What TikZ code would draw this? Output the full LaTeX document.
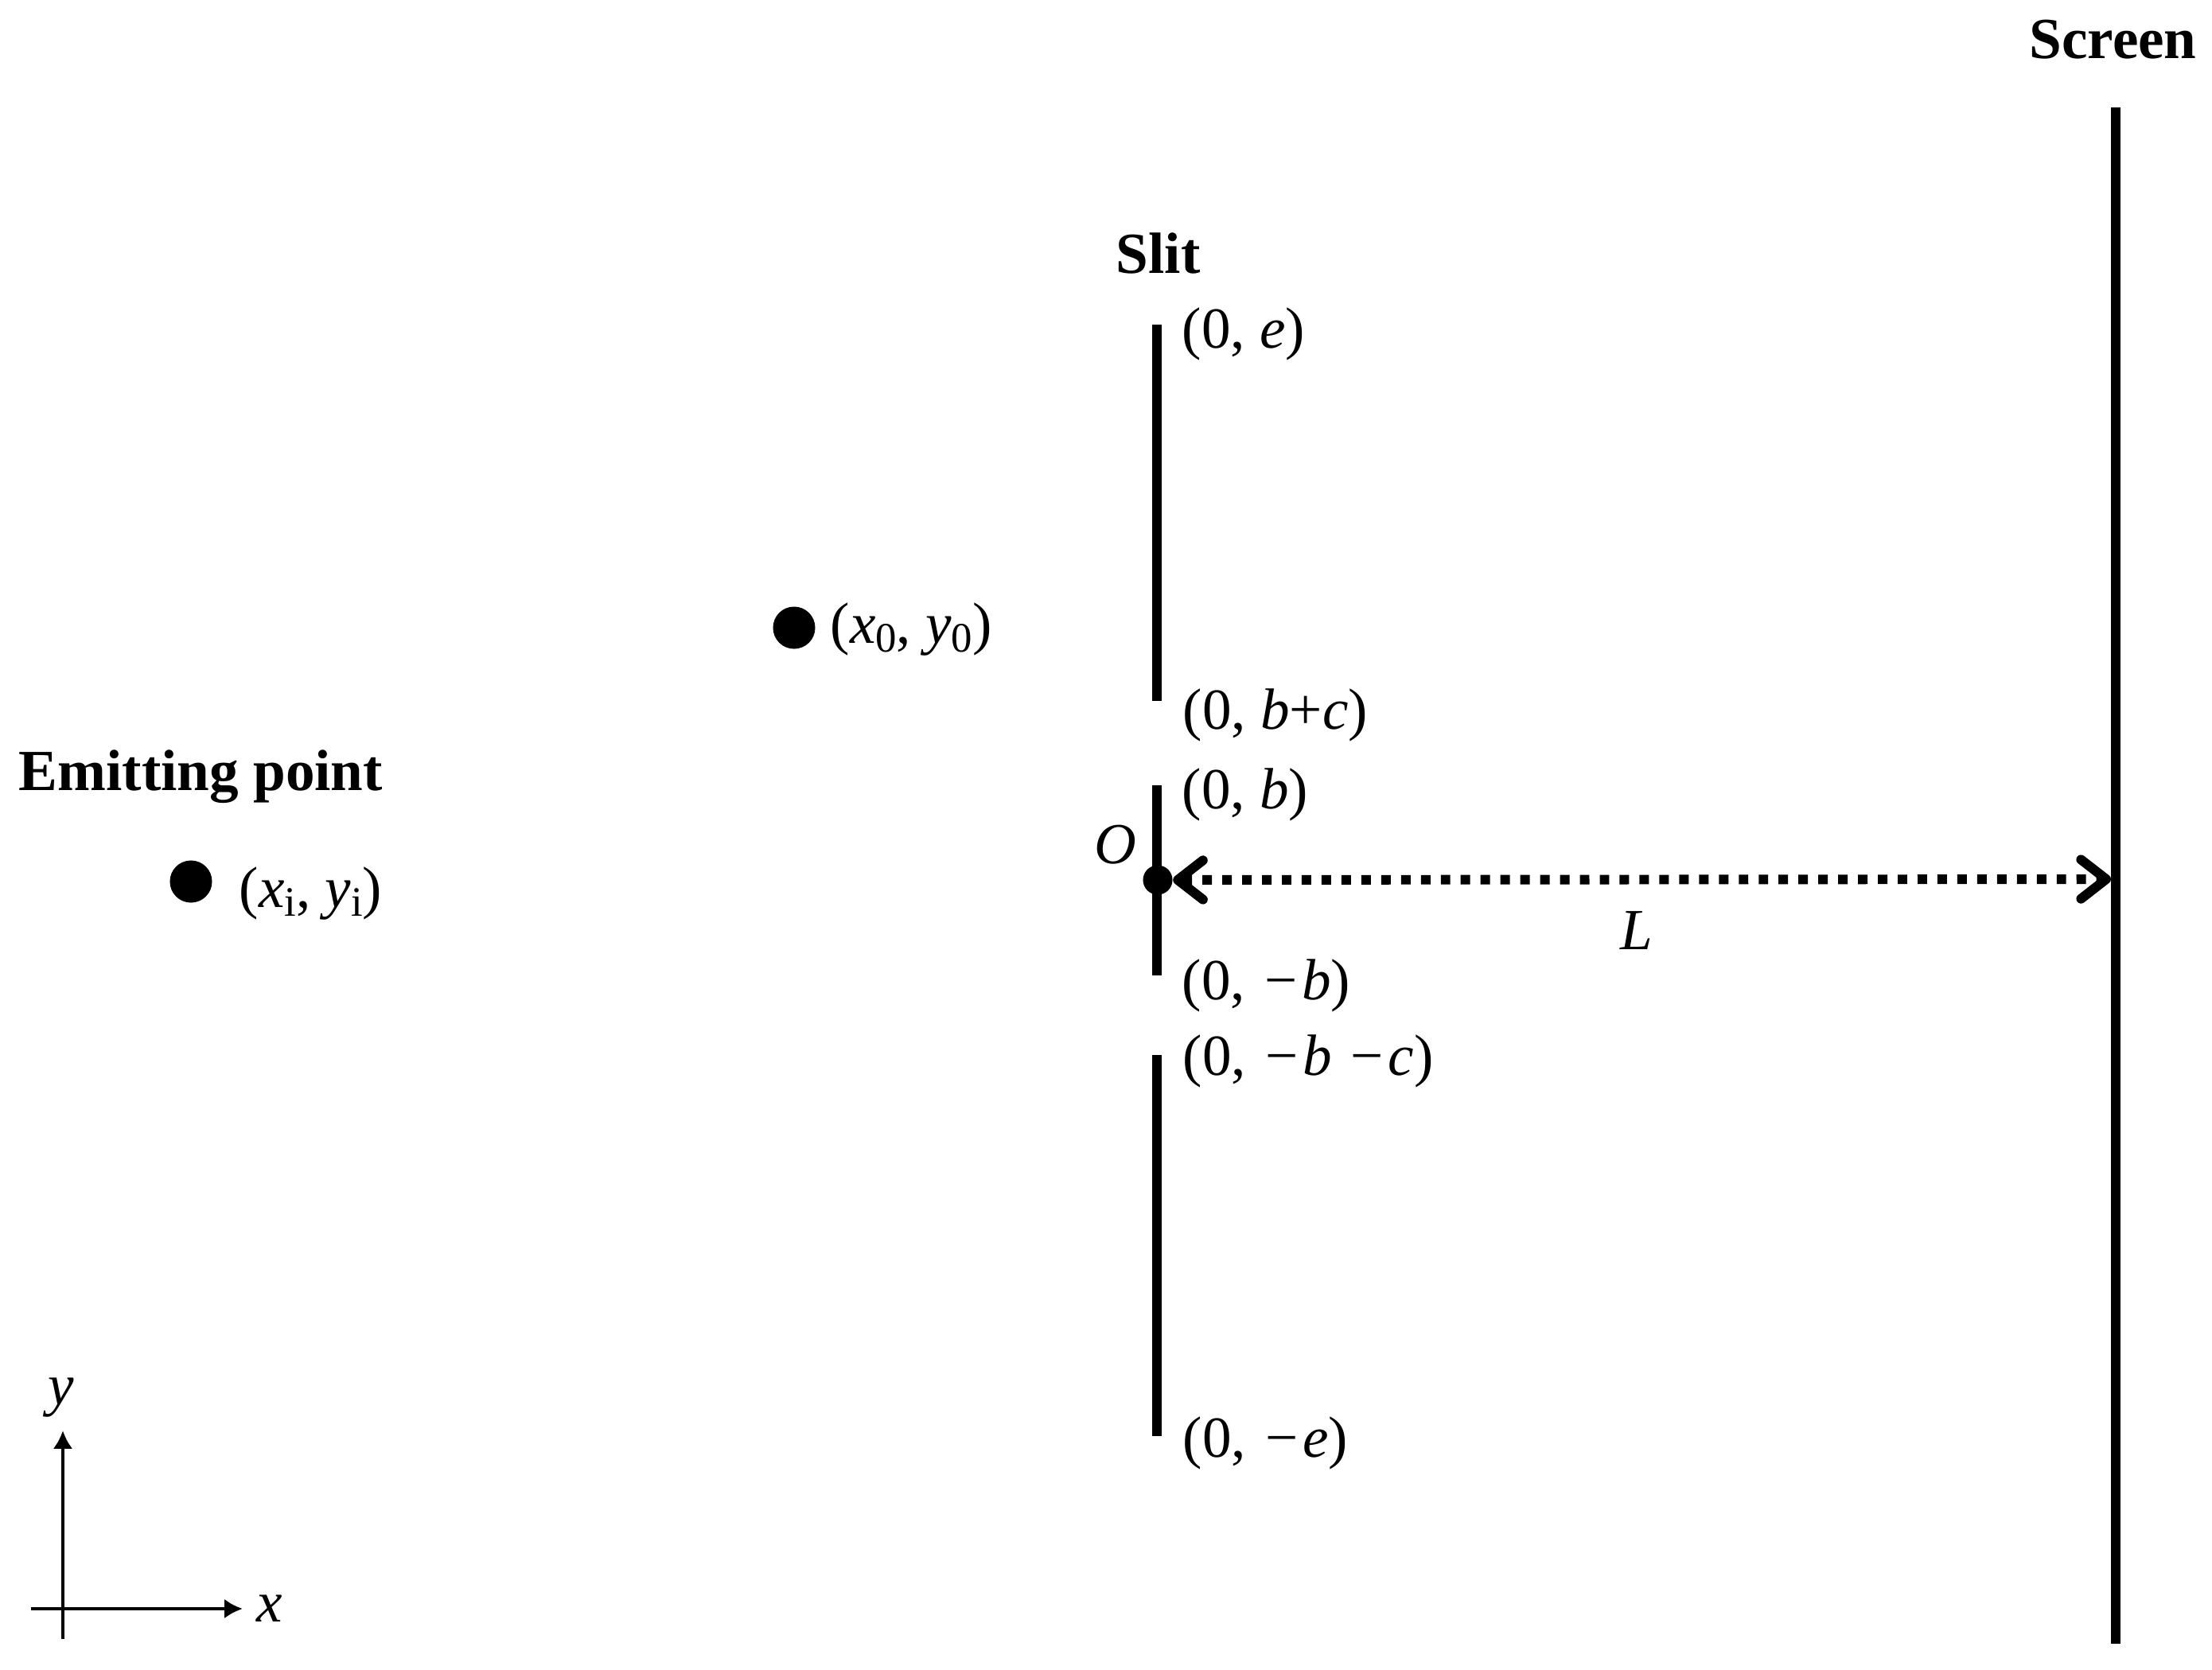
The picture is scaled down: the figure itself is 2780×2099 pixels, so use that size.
\documentclass[tikz,border=0pt]{standalone}
\usepackage{fontspec}
\setmainfont{Liberation Serif}
\usetikzlibrary{arrows.meta}
\newcommand\mysub[1]{\raisebox{-0.16em}{\fontsize{15}{15}\selectfont #1}}
\newcommand\mymin{\hspace{0.08em}−\hspace{0.08em}}
\begin{document}
\begin{tikzpicture}[x=0.01cm,y=-0.01cm,
  lbl/.style={anchor=base west,inner sep=0pt,font=\fontsize{20.8}{25}\selectfont},
  ttl/.style={anchor=base west,inner sep=0pt,font=\fontsize{20.8}{25}\selectfont\bfseries},
  wall/.style={line width=3.4pt},
  bigdot/.style={circle,fill=black,inner sep=0pt,minimum size=0.53cm},
  odot/.style={circle,fill=black,inner sep=0pt,minimum size=0.37cm},
  dotarrow/.style={line width=3.4pt,dash pattern=on 3.4pt off 3.7pt,
    {Straight Barb[length=9pt,width=14pt,round]}-{Straight Barb[length=9pt,width=14pt,round]}},
  axis/.style={line width=1.4pt,-{Latex[length=6.5pt,width=7pt]}}]
\useasboundingbox (0,0) rectangle (2780,2099);
% screen
\draw[wall] (2659,135) -- (2659,2066);
\coordinate (scr) at (2653,1105);
% slit
\draw[wall] (1454,408) -- (1454,881);
\draw[wall] (1454,987) -- (1454,1226);
\draw[wall] (1454,1326) -- (1454,1805);
\node[odot] (O) at (1455,1106) {};
\draw[dotarrow] (O) -- (scr);
% points
\node[bigdot] (p0) at (998,789) {};
\node[bigdot] (pi) at (240,1108) {};
% titles
\node[ttl] (screenlbl) at (2550,73) {Screen};
\node[ttl] (slitlbl) at (1402,343) {Slit};
\node[ttl] (emitlbl) at (23,993) {Emitting point};
% labels
\node[lbl] (le) at (1485,437) {(0, \textit{e})};
\node[lbl] (lbc) at (1486,916) {(0, \textit{b}+\textit{c})};
\node[lbl] (lb) at (1485,1016) {(0, \textit{b})};
\node[lbl] (lmb) at (1485,1256) {(0, \mymin\textit{b})};
\node[lbl] (lmbc) at (1486,1351) {(0, \mymin\textit{b} \mymin\textit{c})};
\node[lbl] (lme) at (1486,1831) {(0, \mymin\textit{e})};
\node[lbl] (lO) at (1375,1085) {\textit{O}};
\node[lbl] (lL) at (2036,1193) {\textit{L}};
\node[lbl] (lx0) at (1043,808) {(\textit{x}\mysub{0}, \textit{y}\mysub{0})};
\node[lbl] (lxi) at (300,1140) {(\textit{x}\mysub{i}, \textit{y}\mysub{i})};
% axes
\coordinate (axl) at (39,2022);
\coordinate (axr) at (305,2022);
\coordinate (axb) at (79,2060);
\coordinate (axt) at (79,1798);
\draw[axis] (axl) -- (axr);
\draw[axis] (axb) -- (axt);
\node[lbl] (ly) at (60,1765) {\textit{y}};
\node[lbl] (lx) at (322,2038) {\textit{x}};
\end{tikzpicture}
\end{document}
